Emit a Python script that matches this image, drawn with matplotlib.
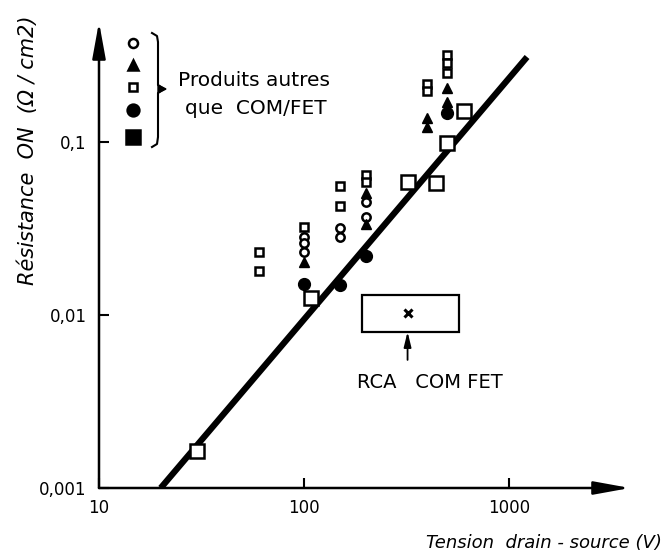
import matplotlib
matplotlib.use("Agg")
import matplotlib.pyplot as plt
from matplotlib.patches import Rectangle, Polygon
from matplotlib.lines import Line2D

# values (tension in V, resistance in ohm/cm2)
circle_v = [100, 100, 100, 150, 150, 200, 200]
circle_r = [0.0284, 0.0259, 0.0232, 0.0318, 0.0281, 0.045, 0.0368]

triangle_v = [100, 200, 200, 400, 400, 500, 500]
triangle_r = [0.0202, 0.051, 0.0335, 0.138, 0.122, 0.205, 0.17]

small_square_v = [60, 60, 100, 150, 150, 200, 200, 400, 400, 500, 500, 500]
small_square_r = [0.0231, 0.018, 0.0322, 0.0557, 0.0427, 0.0645, 0.0587,
                  0.215, 0.198, 0.318, 0.286, 0.25]

dot_v = [100, 150, 200, 500]
dot_r = [0.0151, 0.0149, 0.022, 0.147]

big_square_v = [30, 108, 320, 440, 500, 600]
big_square_r = [0.00163, 0.0126, 0.0587, 0.0578, 0.099, 0.151]

rca_v = [320]
rca_r = [0.0103]

fit_v = [20, 1225]
fit_r = [0.001, 0.31]

x_ticks = [10, 100, 1000]
x_labels = ["10", "100", "1000"]
y_ticks = [0.001, 0.01, 0.1]
y_labels = ["0,001", "0,01", "0,1"]

W, H = 670, 555


def px(x, y):
    return (x / W, 1 - y / H)


fig = plt.figure(figsize=(6.7, 5.55), dpi=100)
ax = fig.add_axes([99 / W, 67 / H, 531 / W, 466 / H])
ax.set_xscale("log")
ax.set_yscale("log")
ax.set_xlim(10, 10 ** (1 + 531 / 205))
ax.set_ylim(0.001, 10 ** (-3 + 466 / 173))
for s in ax.spines.values():
    s.set_visible(False)

# axes drawn as arrows
arrow = dict(arrowstyle="-|>,head_length=2.2,head_width=0.4", lw=1.8,
             color="black", shrinkA=0, shrinkB=0, mutation_scale=10)
ax.annotate("", xy=(1, 0), xytext=(0, 0), xycoords="axes fraction", arrowprops=arrow)
ax.annotate("", xy=(0, 1), xytext=(0, 0), xycoords="axes fraction", arrowprops=arrow)

ax.set_xticks(x_ticks)
ax.set_xticklabels(x_labels)
ax.set_yticks(y_ticks)
ax.set_yticklabels(y_labels)
ax.minorticks_off()
ax.tick_params(direction="in", length=7, width=1.5, labelsize=12)
ax.tick_params(axis="x", pad=8)
ax.tick_params(axis="y", pad=9)

ax.plot(fit_v, fit_r, color="black", lw=4.5, solid_capstyle="butt", zorder=2)

mk = dict(linestyle="none", color="black", zorder=3, clip_on=False)
ax.plot(circle_v, circle_r, marker="o", ms=6, mfc="white", mew=1.8, **mk)
ax.plot(small_square_v, small_square_r, marker="s", ms=5.5, mfc="white", mew=1.8, **mk)
ax.plot(triangle_v, triangle_r, marker="^", ms=7.5, mfc="black", **mk)
ax.plot(dot_v, dot_r, marker="o", ms=8.5, mfc="black", **mk)
ax.plot(big_square_v, big_square_r, marker="s", ms=10, mfc="white", mew=1.8, **mk)
ax.plot(rca_v, rca_r, marker="x", ms=6, mew=2.2, **mk)

# RCA COM FET box
ax.add_patch(Rectangle((192, 0.00798), 570 - 192, 0.01306 - 0.00798,
                       fill=False, lw=1.6, ec="black"))
ax.annotate("", xy=(320, 0.0080), xytext=(320, 0.0055),
            arrowprops=dict(arrowstyle="-|>,head_length=0.9,head_width=0.22",
                            lw=1.3, color="black", shrinkA=0, shrinkB=0,
                            mutation_scale=10))
fig.text(*px(430, 383), "RCA   COM FET", fontsize=14, ha="center", va="center")

# legend markers and brace
leg = [("o", 6.5, "white"), ("^", 7.5, "black"), ("s", 6, "white"),
       ("o", 8.5, "black"), ("s", 10, "black")]
for (m, s, fc), y in zip(leg, [43, 65, 87, 110, 137]):
    fig.add_artist(Line2D([133 / W], [1 - y / H], marker=m, ms=s, mfc=fc,
                          mec="black", mew=1.8, linestyle="none"))
bx = [152, 157, 158, 158, 164, 158, 158, 157, 152]
by = [33, 36, 42, 85, 89, 93, 137, 144, 147]
fig.add_artist(Line2D([x / W for x in bx], [1 - y / H for y in by],
                      color="black", lw=1.5))
fig.add_artist(Polygon([px(158, 85), px(166, 89), px(158, 93)],
                       closed=True, color="black"))
fig.text(*px(178, 80), "Produits autres", fontsize=14.5, va="center")
fig.text(*px(185, 108), "que  COM/FET", fontsize=14.5, va="center")

fig.text(*px(28, 150), "Résistance  ON  (Ω / cm2)", rotation=90,
         style="italic", fontsize=15, ha="center", va="center")
fig.text(*px(662, 543), "Tension  drain - source (V)", style="italic",
         fontsize=13, ha="right", va="center")

fig.savefig("out.png", dpi=100)
